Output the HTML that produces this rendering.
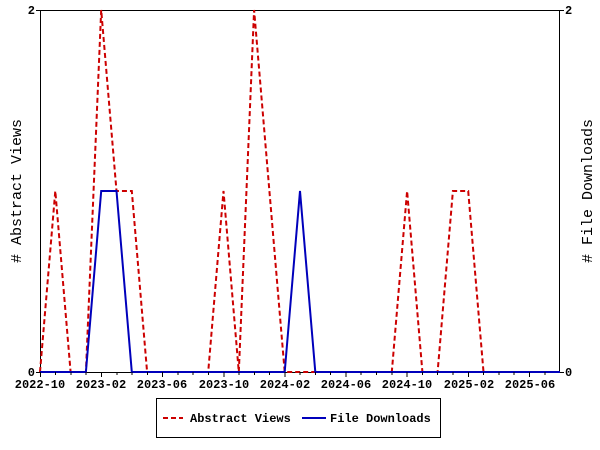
<!DOCTYPE html><html><head><style>body{margin:0;background:#fff}svg{display:block}text{font-family:"Liberation Mono","DejaVu Sans Mono",monospace;font-size:12px;font-weight:bold}</style></head><body>
<svg width="600" height="450" xmlns="http://www.w3.org/2000/svg">
<rect width="600" height="450" fill="#fff"/>
<rect x="40.5" y="10.5" width="519" height="362" fill="none" stroke="#000"/>
<polyline fill="none" stroke="#cc0000" stroke-width="2" stroke-dasharray="5,3" points="40,372 55.3,191 70.6,372 85.9,372 101.2,10 116.5,191 131.8,191 147.1,372 162.4,372 177.6,372 192.9,372 208.2,372 223.5,191 238.8,372 254.1,10 269.4,191 284.7,372 300,372 315.3,372 330.6,372 345.9,372 361.2,372 376.5,372 391.8,372 407.1,191 422.4,372 437.6,372 452.9,191 468.2,191 483.5,372 498.8,372 514.1,372 529.4,372 544.7,372 560,372"/>
<polyline fill="none" stroke="#0000bb" stroke-width="2" points="40,372 85.9,372 101.2,191 116.5,191 131.8,372 284.7,372 300,191 315.3,372 560,372"/>
<g font-size="12" text-anchor="middle">
<text x="40" y="388">2022-10</text><text x="101" y="388">2023-02</text><text x="162" y="388">2023-06</text><text x="224" y="388">2023-10</text><text x="285" y="388">2024-02</text><text x="346" y="388">2024-06</text><text x="407" y="388">2024-10</text><text x="469" y="388">2025-02</text><text x="530" y="388">2025-06</text>
</g>
<text x="35" y="376" text-anchor="end">0</text><text x="35" y="14" text-anchor="end">2</text>
<text x="565" y="376">0</text><text x="565" y="14">2</text>
<text transform="translate(21,191) rotate(-90)" text-anchor="middle" style="font-size:15px;font-weight:normal">#  Abstract Views</text>
<text transform="translate(592,191) rotate(-90)" text-anchor="middle" style="font-size:15px;font-weight:normal">#  File Downloads</text>
<rect x="156.5" y="398.5" width="284" height="39" fill="none" stroke="#000"/>
<line x1="163" y1="418" x2="183" y2="418" stroke="#cc0000" stroke-width="2" stroke-dasharray="5,3"/>
<text x="190" y="422">Abstract Views</text>
<line x1="302" y1="418" x2="326" y2="418" stroke="#0000bb" stroke-width="2"/>
<text x="330" y="422">File Downloads</text>
<path stroke="#000" d="M40.5 372v5M55.5 372v3M71 372v3M86 372v3M101.5 372v5M117 372v3M132 372v3M147.5 372v3M162.5 372v5M178 372v3M193 372v3M208.5 372v3M224 372v5M239 372v3M254.5 372v3M269.5 372v3M285 372v5M300 372v3M315.5 372v3M330.5 372v3M346 372v5M361 372v3M376.5 372v3M392 372v3M407 372v5M422.5 372v3M437.5 372v3M453 372v3M468.5 372v5M483.5 372v3M499 372v3M514 372v3M529.5 372v5M545 372v3M36 372.5h4M36 10.5h4M560 372.5h4M560 10.5h4"/>
</svg></body></html>
